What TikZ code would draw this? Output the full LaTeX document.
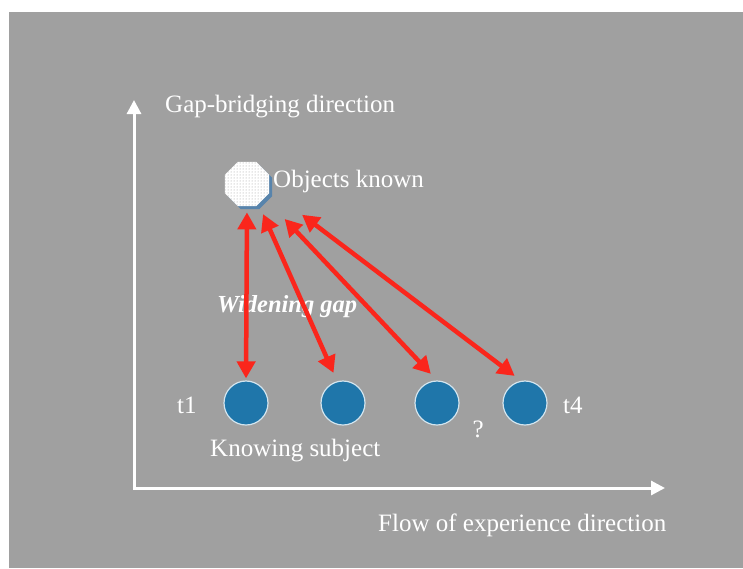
\documentclass[tikz,border=0pt]{standalone}
\usepackage{fontspec}
\setmainfont{Liberation Serif}
\usetikzlibrary{arrows.meta,shapes.geometric,patterns,shadows}
\definecolor{slide}{RGB}{160,160,160}
\definecolor{subjblue}{RGB}{31,118,170}
\definecolor{gapred}{RGB}{250,38,28}
\definecolor{shadeblue}{RGB}{70,125,175}
\begin{document}
\begin{tikzpicture}[x=1pt,y=-1pt,
  lbl/.style={text=white, inner sep=0pt, anchor=base west, font=\fontsize{25}{30}\selectfont},
  subj/.style={circle, fill=subjblue, draw=white!80!subjblue, line width=1.2pt, minimum size=44pt, inner sep=0pt},
  gap/.style={draw=gapred, line width=4.5pt, {Triangle[length=17pt,width=18pt]}-{Triangle[length=17pt,width=18pt]}},
  axis/.style={draw=white, line width=3pt, {Triangle[length=14pt,width=14pt]}-{Triangle[length=14pt,width=14pt]}}]
\useasboundingbox (0,0) rectangle (743,568);
\fill[slide] (9,12) rectangle (743,568);
% axes
\coordinate (orig) at (134,488);
\coordinate (ytip) at (134,100);
\coordinate (xtip) at (665,488);
\draw[axis] (ytip) -- (orig) -- (xtip);
\node[lbl] (gapdir) at (165,112) {Gap-bridging direction};
\node[lbl] (flowdir) at (378,531.5) {Flow of experience direction};
% object and subjects
\node[regular polygon, regular polygon sides=8, minimum size=48pt, inner sep=0pt,
  drop shadow={fill=shadeblue, opacity=.8, shadow xshift=3pt, shadow yshift=-3pt},
  preaction={fill=white}, pattern=dots, pattern color=gray!80] (obj) at (247,184) {};
\node[lbl] (objlbl) at (273,187.5) {Objects known};
\node[subj] (s1) at (246,403) {};
\node[subj] (s2) at (343,403) {};
\node[subj] (s3) at (437,403) {};
\node[subj] (s4) at (525,403) {};
\node[lbl] (t1) at (177,413) {t1};
\node[lbl] (t4) at (563,413) {t4};
\node[lbl] (unk) at (472.5,437) {?};
\node[lbl] (subjlbl) at (210,456) {Knowing subject};
\node[lbl, font=\bfseries\itshape\fontsize{24.5}{29}\selectfont] (widen) at (217,312) {Widening gap};
% gaps
\draw[gap, shorten <=6pt, shorten >=2pt] (obj.south) -- (s1.north);
\draw[gap, shorten <=11pt, shorten >=9pt] (obj.-60) -- (s2.105);
\draw[gap, shorten <=29pt, shorten >=9pt] (obj.-38) -- (s3.north);
\draw[gap, shorten <=41pt, shorten >=8pt] (obj.-15) -- (s4.100);
\end{tikzpicture}
\end{document}
